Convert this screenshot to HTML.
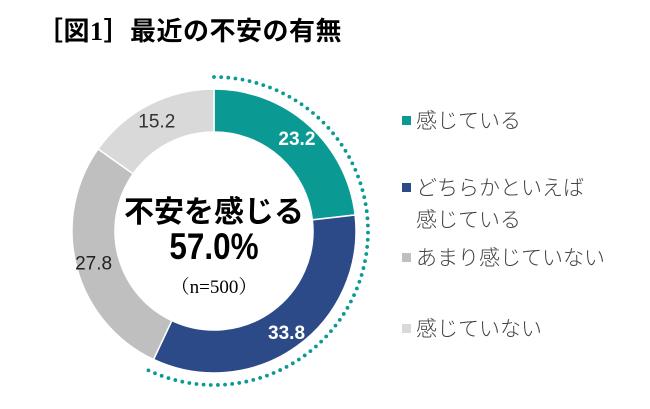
<!DOCTYPE html>
<html><head><meta charset="utf-8"><style>
body{margin:0;background:#fff;width:650px;height:404px;overflow:hidden;font-family:"Liberation Sans","Noto Sans CJK JP",sans-serif}
</style></head><body>
<svg id="chart" width="650" height="404" xmlns="http://www.w3.org/2000/svg">
<text x="37" y="40" font-size="26" font-weight="bold" font-family="'Liberation Serif','Noto Sans CJK JP',sans-serif" letter-spacing="0.5">［図1］最近の不安の有無</text>
<g id="slices"></g>
<g id="dots"></g>
<g id="labels"></g>
<text x="214" y="222" text-anchor="middle" font-size="30" font-weight="bold" font-family="'Noto Sans CJK JP',sans-serif">不安を感じる</text>
<text x="214" y="259" text-anchor="middle" font-size="37" font-weight="bold" font-family="'Liberation Sans Narrow','Liberation Sans',sans-serif" transform="translate(214 0) scale(0.85 1) translate(-214 0)">57.0%</text>
<text x="214" y="293" text-anchor="middle" font-size="19" font-family="'Liberation Serif','Noto Serif CJK SC',serif">（n=500）</text>
<g id="legend"></g>
</svg>
<script>
const categories=["感じている","どちらかといえば感じている","あまり感じていない","感じていない"];
const values=[23.2,33.8,27.8,15.2];
const colors=["#0b9a93","#2c4a87","#bfbfbf","#d9d9d9"];
const labelColors=["#fff","#fff","#222","#333"];
const NS="http://www.w3.org/2000/svg";
const cx=214,cy=231,R=142,r=99;
const total=values.reduce((a,b)=>a+b,0);
function pt(rad,frac){const a=frac*2*Math.PI;return[cx+rad*Math.sin(a),cy-rad*Math.cos(a)];}
let acc=0;
const sg=document.getElementById('slices'),lg=document.getElementById('labels');
values.forEach((v,i)=>{
  const f0=acc/total,f1=(acc+v)/total;acc+=v;
  const large=(f1-f0)>0.5?1:0;
  const [x0,y0]=pt(R,f0),[x1,y1]=pt(R,f1),[x2,y2]=pt(r,f1),[x3,y3]=pt(r,f0);
  const p=document.createElementNS(NS,'path');
  p.setAttribute('d',`M${x0},${y0}A${R},${R} 0 ${large} 1 ${x1},${y1}L${x2},${y2}A${r},${r} 0 ${large} 0 ${x3},${y3}Z`);
  p.setAttribute('fill',colors[i]);p.setAttribute('stroke','#fff');p.setAttribute('stroke-width','1.5');
  
  
  sg.appendChild(p);
  const fm=(f0+f1)/2;const [lx,ly]=pt((R+r)/2+4,fm);
  const t=document.createElementNS(NS,'text');
  t.setAttribute('x',lx);t.setAttribute('y',ly+7);t.setAttribute('text-anchor','middle');
  t.setAttribute('font-size','19');t.setAttribute('fill',labelColors[i]);
  if(i<2)t.setAttribute('font-weight','bold');
  t.textContent=v.toFixed(1);
  
  
  lg.appendChild(t);
});
const dg=document.getElementById('dots');
const fEnd=(values[0]+values[1])/total;const RD=154;
const n=Math.round(2*Math.PI*RD*fEnd/7.2);
for(let k=0;k<=n;k++){const [x,y]=pt(RD,fEnd*k/n);
  const c=document.createElementNS(NS,'circle');c.setAttribute('cx',x);c.setAttribute('cy',y);c.setAttribute('r',1.9);c.setAttribute('fill','#0b9a93');
  
  
  dg.appendChild(c);}
const lgd=document.getElementById('legend');
const rows=[[121],[188,220],[258],[329]];
const lines=[["感じている"],["どちらかといえば","感じている"],["あまり感じていない"],["感じていない"]];
categories.forEach((c,i)=>{
  const g=document.createElementNS(NS,'g');
  
  
  const s=document.createElementNS(NS,'rect');s.setAttribute('x',402);s.setAttribute('y',rows[i][0]-5);s.setAttribute('width',9);s.setAttribute('height',9);s.setAttribute('fill',colors[i]);
  g.appendChild(s);
  lines[i].forEach((ln,j)=>{const t=document.createElementNS(NS,'text');t.setAttribute('x',416);t.setAttribute('y',rows[i][j]+7);t.setAttribute('font-size','21');t.setAttribute('fill','#444');t.setAttribute('font-family',"'Noto Sans CJK JP',sans-serif");t.setAttribute('font-weight','300');t.textContent=ln;g.appendChild(t);});
  lgd.appendChild(g);
});
</script>
</body></html>
